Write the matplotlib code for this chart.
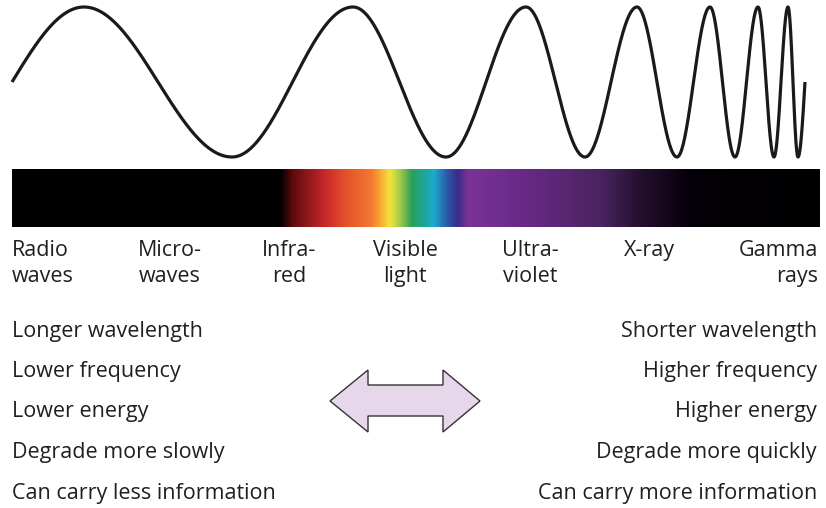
import matplotlib
matplotlib.use("Agg")
import matplotlib.pyplot as plt
import numpy as np
from matplotlib.colors import to_rgb
from matplotlib.patches import Polygon

plt.rcParams['font.family'] = ['Open Sans', 'DejaVu Sans']

# wave: x positions (px) of start, each peak/trough, and end
wave_x = [12, 84, 232, 353, 446, 526, 585, 637, 677, 710, 735, 758, 774, 788, 798, 805]

# spectrum band colour stops (x in px, colour)
band_x = [12, 280, 292, 325, 345, 372, 382, 390, 400, 412, 425, 434, 447, 458, 468, 520, 600, 640, 690, 820]
band_colors = ['#000000', '#000000', '#5a0a0e', '#c8282b', '#e5502a', '#f37a30', '#f9b233', '#f2e53c',
               '#a3c94a', '#2c9f58', '#1ba89e', '#1eaacb', '#2a5aa8', '#3b2c8a', '#7a3396', '#6a2a88',
               '#4a2460', '#250f30', '#050008', '#000000']

band_labels = ["Radio\nwaves", "Micro-\nwaves", "Infra-\nred", "Visible\nlight", "Ultra-\nviolet", "X-ray", "Gamma\nrays"]
label_x = [12, 170, 289, 405, 530, 649, 818]
label_ha = ['left', 'center', 'center', 'center', 'center', 'center', 'right']

left_text = ["Longer wavelength", "Lower frequency", "Lower energy", "Degrade more slowly", "Can carry less information"]
right_text = ["Shorter wavelength", "Higher frequency", "Higher energy", "Degrade more quickly", "Can carry more information"]

fig = plt.figure(figsize=(8.26, 5.08), dpi=100)
ax = fig.add_axes([0, 0, 1, 1])
ax.set_xlim(0, 826)
ax.set_ylim(508, 0)
ax.axis('off')

# wave: start at mid going up, then alternate peak / trough, end at mid
n = len(wave_x)
phase = np.array([0.0] + [(2 * i - 1) * np.pi / 2 for i in range(1, n - 1)] + [(n - 2) * np.pi])
xs = np.linspace(wave_x[0], wave_x[-1], 4000)
ys = 82 - 75 * np.sin(np.interp(xs, wave_x, phase))
ax.plot(xs, ys, color='#1a1a1a', lw=2.3, solid_capstyle='butt')

# band
grid = np.linspace(12, 820, 1600)
rgb = np.array([to_rgb(c) for c in band_colors])
img = np.stack([np.interp(grid, band_x, rgb[:, k]) for k in range(3)], axis=-1)[None, :, :]
ax.imshow(img, extent=[12, 820, 227, 169], aspect='auto', interpolation='bilinear')

txt = '#231f20'
fs = 15.5
for lab, x, ha in zip(band_labels, label_x, label_ha):
    for j, line in enumerate(lab.split('\n')):
        ax.text(x, 256 + j * 26, line, ha=ha, va='baseline', fontsize=fs, color=txt)

for i, (l, r) in enumerate(zip(left_text, right_text)):
    y = 331 + i * 40.5
    ax.text(12, y, l, ha='left', va='center', fontsize=fs, color=txt)
    ax.text(817, y, r, ha='right', va='center', fontsize=fs, color=txt)

# double arrow
arrow = [(330, 401), (368, 370), (368, 385), (443, 385), (443, 370), (480, 401),
         (443, 432), (443, 416), (368, 416), (368, 432)]
ax.add_patch(Polygon(arrow, closed=True, facecolor='#e6d8ea', edgecolor='#333333', lw=1))

fig.savefig('out.png', dpi=100)
